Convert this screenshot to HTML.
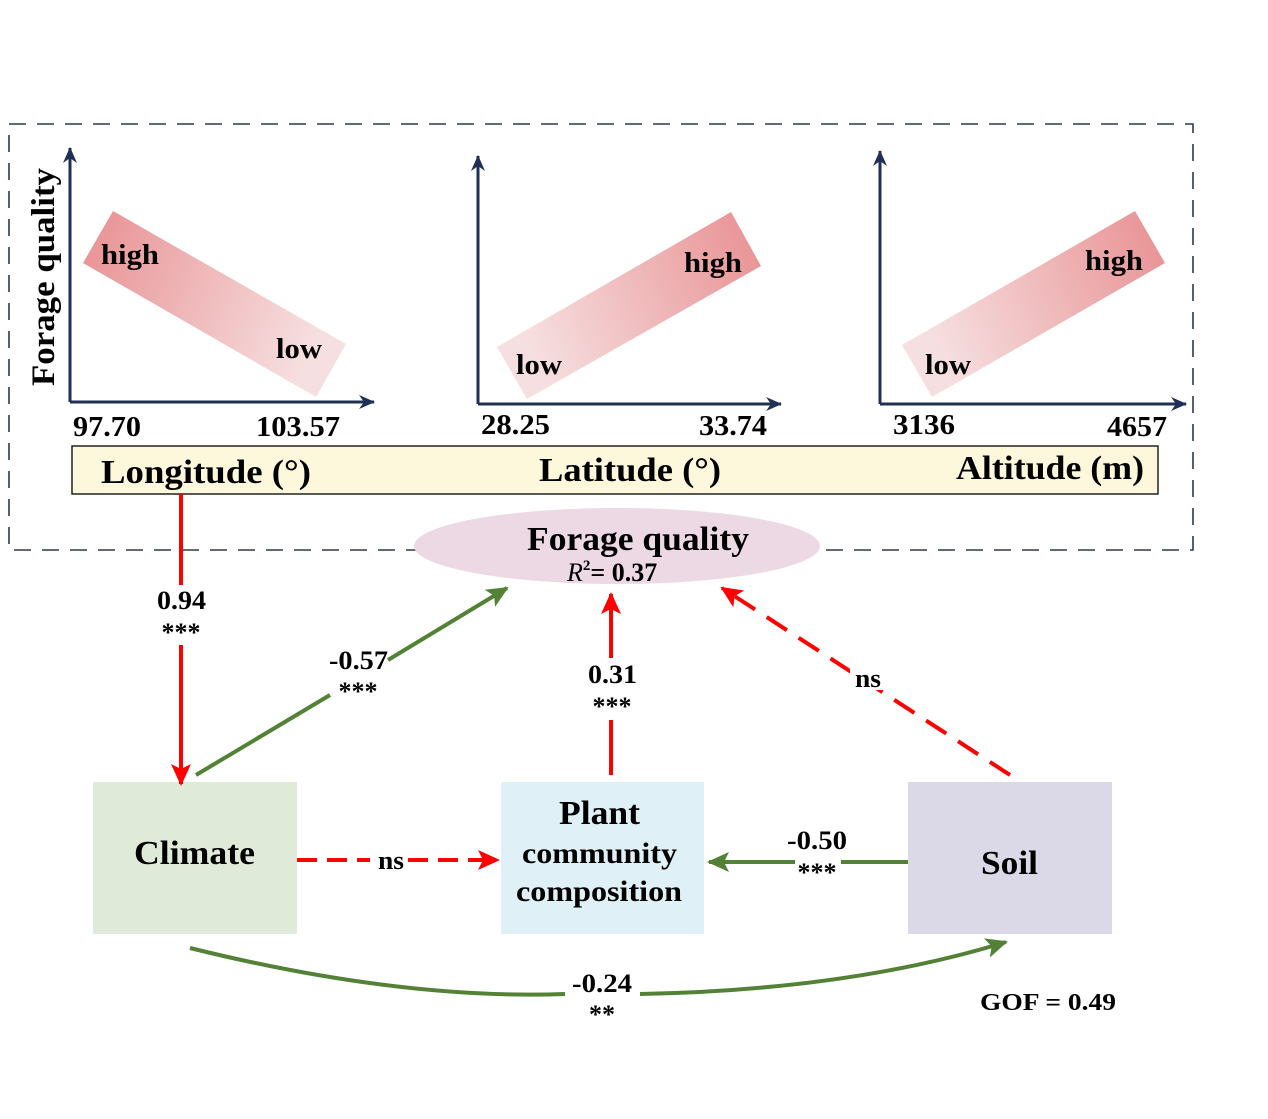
<!DOCTYPE html>
<html><head><style>body{margin:0;background:#fff}svg{display:block}text{font-family:"Liberation Serif",serif;font-weight:bold;fill:#000}</style></head>
<body>
<svg width="1268" height="1119" viewBox="0 0 1268 1119">
<defs>
<linearGradient id="g1" x1="0" y1="0" x2="1" y2="0.3"><stop offset="0" stop-color="#e88f91"/><stop offset="1" stop-color="#f6dfe0"/></linearGradient>
<linearGradient id="g2" x1="1" y1="0" x2="0" y2="0.3"><stop offset="0" stop-color="#e88f91"/><stop offset="1" stop-color="#f6dfe0"/></linearGradient>
<marker id="an" markerWidth="16" markerHeight="16" refX="15" refY="8" orient="auto" markerUnits="userSpaceOnUse" viewBox="0 0 16 16"><path d="M0,1 L16,8 L0,15 L5,8Z" fill="#1f3056"/></marker>
<marker id="ar" markerWidth="22" markerHeight="22" refX="20" refY="11" orient="auto" markerUnits="userSpaceOnUse" viewBox="0 0 22 22"><path d="M0,1 L22,11 L0,21 L5,11Z" fill="#f00"/></marker>
<marker id="ag" markerWidth="22" markerHeight="22" refX="20" refY="11" orient="auto" markerUnits="userSpaceOnUse" viewBox="0 0 22 22"><path d="M0,1 L22,11 L0,21 L5,11Z" fill="#538135"/></marker>
</defs>
<rect x="9" y="124" width="1184" height="426" fill="none" stroke="#2e3a4e" stroke-width="1.6" stroke-dasharray="17,11"/>
<polygon points="113,211 83,263 316,397 346,344" fill="url(#g1)"/>
<polygon points="497,347 527,399 761,266 731,212" fill="url(#g2)"/>
<polygon points="902,345 932,397 1165,263 1135,211" fill="url(#g2)"/>
<g stroke="#1f3056" stroke-width="3" fill="none">
<path d="M70,402 V148" marker-end="url(#an)"/><path d="M70,402 H374" marker-end="url(#an)"/>
<path d="M478,404 V156" marker-end="url(#an)"/><path d="M478,404 H781" marker-end="url(#an)"/>
<path d="M880,404 V151" marker-end="url(#an)"/><path d="M880,404 H1186" marker-end="url(#an)"/>
</g>
<text x="0" y="0" font-size="33" textLength="218" lengthAdjust="spacingAndGlyphs" transform="translate(54,386) rotate(-90)">Forage quality</text>
<g font-size="28" lengthAdjust="spacingAndGlyphs">
<text x="101" y="264" textLength="58" lengthAdjust="spacingAndGlyphs">high</text><text x="276" y="358" textLength="46" lengthAdjust="spacingAndGlyphs">low</text>
<text x="684" y="272" textLength="58" lengthAdjust="spacingAndGlyphs">high</text><text x="516" y="374" textLength="46" lengthAdjust="spacingAndGlyphs">low</text>
<text x="1085" y="270" textLength="58" lengthAdjust="spacingAndGlyphs">high</text><text x="925" y="374" textLength="46" lengthAdjust="spacingAndGlyphs">low</text>
<text x="73" y="436" textLength="68" lengthAdjust="spacingAndGlyphs">97.70</text><text x="256" y="436" textLength="84" lengthAdjust="spacingAndGlyphs">103.57</text>
<text x="481" y="434" textLength="69" lengthAdjust="spacingAndGlyphs">28.25</text><text x="699" y="435" textLength="68" lengthAdjust="spacingAndGlyphs">33.74</text>
<text x="893" y="434" textLength="62" lengthAdjust="spacingAndGlyphs">3136</text><text x="1107" y="436" textLength="60" lengthAdjust="spacingAndGlyphs">4657</text>
</g>
<rect x="72" y="446" width="1086" height="48" fill="#fdf7dc" stroke="#222" stroke-width="1.5"/>
<g font-size="34">
<text x="101" y="483" textLength="210" lengthAdjust="spacingAndGlyphs">Longitude (°)</text>
<text x="539" y="481" textLength="182" lengthAdjust="spacingAndGlyphs">Latitude (°)</text>
<text x="956" y="479" textLength="188" lengthAdjust="spacingAndGlyphs">Altitude (m)</text>
</g>
<ellipse cx="617" cy="546" rx="203" ry="38" fill="#ecd9e4"/>
<text x="527" y="550" font-size="34" textLength="222" lengthAdjust="spacingAndGlyphs">Forage quality</text>
<text x="567" y="581" font-size="26"><tspan font-style="italic" font-weight="normal">R</tspan><tspan font-size="15" dy="-11">2</tspan><tspan dy="11">= 0.37</tspan></text>
<rect x="93" y="782" width="204" height="152" fill="#dfead8"/>
<rect x="501" y="782" width="203" height="152" fill="#dff0f6"/>
<rect x="908" y="782" width="204" height="152" fill="#dbd8e8"/>
<text x="134" y="864" font-size="34" textLength="121" lengthAdjust="spacingAndGlyphs">Climate</text>
<text x="559" y="824" font-size="34" textLength="81" lengthAdjust="spacingAndGlyphs">Plant</text>
<text x="522" y="863" font-size="30" textLength="155" lengthAdjust="spacingAndGlyphs">community</text>
<text x="516" y="901" font-size="30" textLength="166" lengthAdjust="spacingAndGlyphs">composition</text>
<text x="981" y="874" font-size="34" textLength="57" lengthAdjust="spacingAndGlyphs">Soil</text>
<g stroke-width="4" fill="none">
<path d="M181,494 V585 M181,645 V784" stroke="#f00" marker-end="url(#ar)"/>
<path d="M196,775 L330,695 M388,660 L507,588" stroke="#538135" marker-end="url(#ag)"/>
<path d="M611,775 V720 M611,658 V594" stroke="#f00" marker-end="url(#ar)"/>
<path d="M1010,775 L722,588" stroke="#f00" stroke-dasharray="24,14" marker-end="url(#ar)"/>
<path d="M297,860 H370 M408,860 H498" stroke="#f00" stroke-dasharray="20,10" marker-end="url(#ar)"/>
<path d="M908,862 H709" stroke="#538135" marker-end="url(#ag)"/>
<path d="M190,948 Q400,1000 565,994 M640,994 Q850,990 1006,942" stroke="#538135" marker-end="url(#ag)"/>
</g>
<rect x="850" y="660" width="36" height="30" fill="#fff"/>
<rect x="795" y="853" width="46" height="22" fill="#fff"/>
<g font-size="26">
<text x="157" y="609" textLength="49" lengthAdjust="spacingAndGlyphs">0.94</text><text x="181" y="641" text-anchor="middle">***</text>
<text x="329" y="669" textLength="59" lengthAdjust="spacingAndGlyphs">-0.57</text><text x="358" y="700" text-anchor="middle">***</text>
<text x="588" y="683" textLength="49" lengthAdjust="spacingAndGlyphs">0.31</text><text x="612" y="715" text-anchor="middle">***</text>
<text x="855" y="687" textLength="26" lengthAdjust="spacingAndGlyphs">ns</text>
<text x="378" y="869" textLength="26" lengthAdjust="spacingAndGlyphs">ns</text>
<text x="787" y="849" textLength="60" lengthAdjust="spacingAndGlyphs">-0.50</text><text x="817" y="881" text-anchor="middle">***</text>
<text x="572" y="992" textLength="60" lengthAdjust="spacingAndGlyphs">-0.24</text><text x="602" y="1023" text-anchor="middle">**</text>
<text x="980" y="1010" font-size="24" textLength="136" lengthAdjust="spacingAndGlyphs">GOF = 0.49</text>
</g>
</svg>
</body></html>
